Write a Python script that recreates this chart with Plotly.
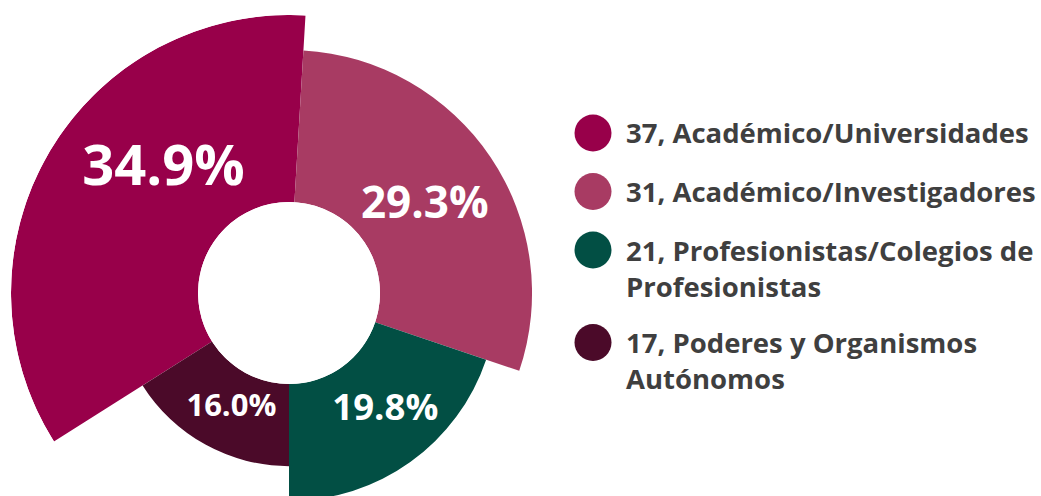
import plotly.graph_objects as go

# ---------------- data ----------------
categories = ["Académico/Universidades", "Académico/Investigadores",
              "Profesionistas/Colegios de Profesionistas",
              "Poderes y Organismos Autónomos"]
counts = [37, 31, 21, 17]
pct_text = ["34.9%", "29.3%", "19.8%", "16.0%"]
legend_text = ["37, Académico/Universidades",
               "31, Académico/Investigadores",
               "21, Profesionistas/Colegios de<br>Profesionistas",
               "17, Poderes y Organismos<br>Autónomos"]

# ---------------- style ----------------
colors = ["#98004A", "#A83B63", "#024F44", "#4B0A29"]
label_sizes = [56, 44, 36.5, 31]
label_theta_shift = [13.6, 1.5, -3.7, -2.3]
label_ring_frac = [0.45, 0.46, 0.52, 0.46]
FONT = "Open Sans"
TEXT_COLOR = "#3F3F3F"

W, H = 1041, 580
CX, CY, R = 289, 293, 278        # pie centre / outer radius (px from top-left)
HOLE_PX = 91
BASE = -1.35                      # radial axis start (at hole edge)
START = 212.26                    # screen angle of theta = 0 (clockwise)

n = len(counts)
total = sum(counts)
widths = [c / total * 360 for c in counts]
mids = []
acc = 0.0
for w in widths:
    mids.append(acc + w / 2)
    acc += w

# rose radius by rank of count
order = sorted(range(n), key=lambda i: counts[i])
rank = [0] * n
for k, i in enumerate(order):
    rank[i] = k + 1

fig = go.Figure()
fig.add_trace(go.Barpolar(
    theta=mids, width=widths,
    r=[rk - BASE for rk in rank], base=BASE,
    marker=dict(color=colors, line=dict(width=0)),
    showlegend=False, hoverinfo="skip",
))
fig.add_trace(go.Scatterpolar(
    theta=[m + s for m, s in zip(mids, label_theta_shift)],
    r=[BASE + f * (rk - BASE) for f, rk in zip(label_ring_frac, rank)],
    mode="text", text=pct_text, textposition="middle center",
    textfont=dict(family=FONT, size=label_sizes, color="white", weight="bold"),
    showlegend=False, hoverinfo="skip",
))

rot = START if START <= 180 else START - 360
fig.update_layout(
    width=W, height=H,
    margin=dict(l=0, r=0, t=0, b=0),
    paper_bgcolor="white", plot_bgcolor="white",
    polar=dict(
        domain=dict(x=[(CX - R) / W, (CX + R) / W],
                    y=[(H - CY - R) / H, (H - CY + R) / H]),
        hole=HOLE_PX / R,
        bgcolor="white",
        bargap=0,
        radialaxis=dict(range=[BASE, max(rank)], visible=False, showgrid=False),
        angularaxis=dict(direction="clockwise", rotation=rot, visible=False,
                         showgrid=False, thetaunit="degrees"),
    ),
)

# ---------------- legend ----------------
LX, LTX = 593, 624
LY0, STEP, EXTRA = 133, 58.5, 34
MR = 18.5
line_h = 36
extra_lines = 0
for i, txt in enumerate(legend_text):
    yc = LY0 + STEP * i + EXTRA * extra_lines
    nl = txt.count("<br>")
    fig.add_shape(type="circle", xref="paper", yref="paper",
                  x0=(LX - MR) / W, x1=(LX + MR) / W,
                  y0=(H - yc - MR) / H, y1=(H - yc + MR) / H,
                  fillcolor=colors[i], line=dict(width=0))
    ymid = yc + nl * line_h / 2
    fig.add_annotation(x=LTX / W, y=(H - ymid) / H, xref="paper", yref="paper",
                       xanchor="left", yanchor="middle", align="left",
                       text=txt, showarrow=False,
                       font=dict(family=FONT, size=27.5, color=TEXT_COLOR, weight="bold"))
    extra_lines += nl

fig.write_html("out.html",
               config={"displayModeBar": False},
               post_script="document.body.style.margin='0';document.body.style.overflow='hidden';")
